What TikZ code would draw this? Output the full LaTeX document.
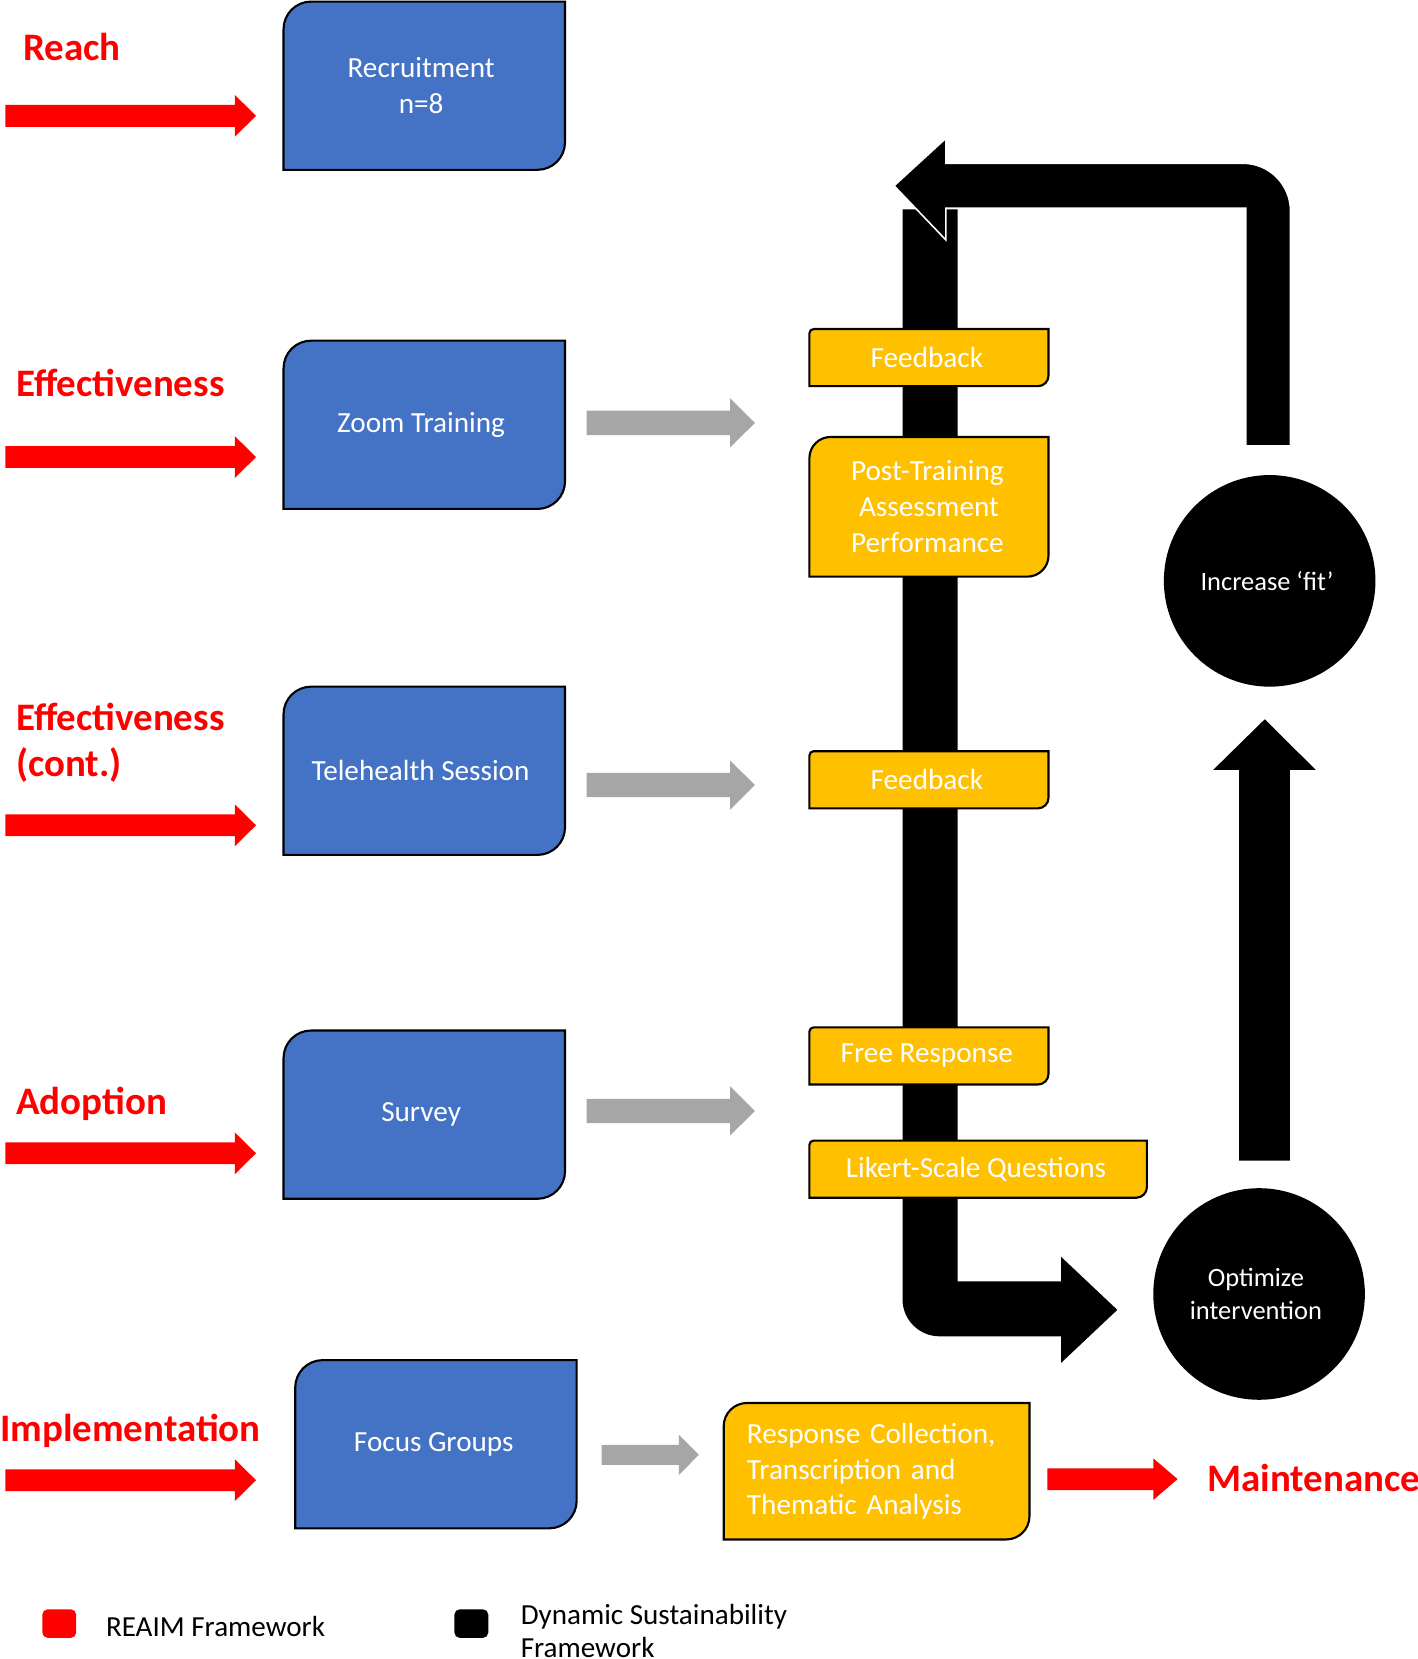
\documentclass[tikz,border=0pt]{standalone}
\usepackage{fontspec}
\setmainfont{Carlito}
\definecolor{boxblue}{HTML}{4472C4}
\definecolor{boxyellow}{HTML}{FFC000}
\definecolor{arrgray}{HTML}{A6A6A6}
\definecolor{reaim}{HTML}{FF0000}
\pgfdeclarelayer{back}
\pgfdeclarelayer{boxes}
\pgfsetlayers{back,boxes,main}
% #1 node, #2 top-left radius, #3 bottom-right radius, #4 fill colour
\newcommand\roundbox[4]{%
  \path[draw=black, line width=2pt, fill=#4]
    ([yshift=-#2]#1.north west)
    .. controls ([yshift=-0.448*#2]#1.north west) and ([xshift=0.448*#2]#1.north west) .. ([xshift=#2]#1.north west)
    -- (#1.north east)
    -- ([yshift=#3]#1.south east)
    .. controls ([yshift=0.448*#3]#1.south east) and ([xshift=-0.448*#3]#1.south east) .. ([xshift=-#3]#1.south east)
    -- (#1.south west) -- cycle;}
% x0, xbase, xtip, ycentre, half shaft, half head, colour
\newcommand\harrow[7]{%
  \fill[#7] (#1,#4-#5) -- (#2,#4-#5) -- (#2,#4-#6) -- (#3,#4) -- (#2,#4+#6) -- (#2,#4+#5) -- (#1,#4+#5) -- cycle;}
\newcommand\sh[1]{\hspace*{#1pt}}
\begin{document}
\begin{tikzpicture}[x=1pt, y=-1pt,
  bluebox/.style={inner sep=0pt, outer sep=0pt, minimum width=266pt, minimum height=159pt,
    text=white, font=\fontsize{27.6}{34}\selectfont, align=center},
  ybox/.style={inner sep=0pt, outer sep=0pt, minimum width=226pt, minimum height=54pt,
    text=white, font=\fontsize{27.6}{34}\selectfont, align=center},
  redlbl/.style={inner sep=0pt, text=reaim, font=\fontsize{36.8}{43}\selectfont\bfseries, align=left},
  circ/.style={circle, fill=black, minimum size=200pt, inner sep=0pt, text=white,
    font=\fontsize{25}{31}\selectfont, align=center},
  legsq/.style={minimum width=32pt, minimum height=27pt, inner sep=0pt, rounded corners=5pt},
  legtxt/.style={inner sep=0pt, anchor=west, align=left, font=\fontsize{27.5}{31}\selectfont}]
\useasboundingbox (0,0) rectangle (1340,1568);

% ---------- black sustainability arrows ----------
\begin{pgfonlayer}{back}
  \fill[black] (853,198) -- (905,198) -- (905,1211) -- (1003,1211) -- (1003,1188) -- (1056,1238)
    -- (1003,1288) -- (1003,1263) -- (888,1263) .. controls (868.7,1263) and (853,1247.3) .. (853,1228) -- cycle;
  \filldraw[fill=black, draw=white, line width=1.5pt] (1177.5,421.5) -- (1177.5,196.7) -- (894,196.7)
    -- (894,226.8) -- (845,175.6) -- (894,130.7) -- (894,154.3) -- (1174.7,154.3)
    .. controls (1199.6,154.3) and (1219.7,174.4) .. (1219.7,199.3) -- (1219.7,421.5) -- cycle;
  \fill[black] (1171.2,1097) -- (1171.2,727.7) -- (1146.6,727.7) -- (1195.4,679.8) -- (1243.6,727.7)
    -- (1219,727.7) -- (1219,1097) -- cycle;
\end{pgfonlayer}

% ---------- red REAIM arrows ----------
\harrow{5}{222}{242}{109.5}{10.3}{19.7}{reaim}
\harrow{5}{222}{242}{432}{10.3}{19.7}{reaim}
\harrow{5}{222}{242}{780}{10.3}{19.7}{reaim}
\harrow{5}{222}{242}{1090}{10.3}{19.7}{reaim}
\harrow{5}{222}{242}{1399}{10.3}{19.7}{reaim}
\harrow{990}{1090}{1113}{1398}{10.3}{19.7}{reaim}

% ---------- grey arrows ----------
\harrow{554.4}{690}{713.5}{399.7}{11.5}{23.3}{arrgray}
\harrow{554.4}{690}{713.5}{742}{11.5}{23.3}{arrgray}
\harrow{554.4}{690}{713.5}{1050}{11.5}{23.3}{arrgray}
\harrow{568.6}{641.7}{660.5}{1375}{9.5}{19}{arrgray}

% ---------- red labels ----------
\node[redlbl, anchor=base west] (lreach) at (22,57) {Reach};
\node[redlbl, anchor=base west] (leff) at (15,375) {Effectiveness};
\node[redlbl, anchor=west] (leff2) at (15,702) {Effectiveness\\(cont.)};
\node[redlbl, anchor=base west] (ladopt) at (15,1053) {Adoption};
\node[redlbl, anchor=base west] (limpl) at (0,1362) {Implementation};
\node[redlbl, anchor=base west] (lmaint) at (1141,1410) {Maintenance};

% ---------- blue boxes ----------
\node[bluebox] (rec) at (401,81) {Recruitment\sh{6}\\n=8\sh{6}};
\node[bluebox] (zoom) at (401,401.5) {Zoom Training\sh{6}};
\node[bluebox] (tele) at (401,728.5) {Telehealth Session\sh{7}};
\node[bluebox] (survey) at (401,1053.5) {Survey\sh{6}};
\node[bluebox] (focus) at (412,1365) {Focus Groups\sh{4}};

% ---------- yellow boxes ----------
\node[ybox] (fb1) at (878,338) {Feedback\sh{4}};
\node[ybox, minimum height=132pt] (post) at (878,479) {Post-Training\sh{3}\\Assessment\sh{3}\\Performance\sh{3}};
\node[ybox] (fb2) at (878,737) {Feedback\sh{4}};
\node[ybox] (free) at (878,998) {Free Response\sh{4}};
\node[ybox, minimum width=319pt] (likert) at (924.5,1105) {Likert-Scale Questions\sh{4}};
\node[ybox, minimum width=289pt, minimum height=129pt, align=left, text width=245pt, inner xsep=22pt]
  (resp) at (828.5,1390.5) {Response Collection,\\Transcription and\\Thematic Analysis};

% ---------- circles ----------
\node[circ] (fit) at (1200,549) {Increase ‘fit’\sh{5}};
\node[circ] (opt) at (1190,1223) {Optimize\sh{6}\\intervention\sh{6}};

% ---------- box outlines ----------
\begin{pgfonlayer}{boxes}
  \roundbox{rec}{26pt}{26pt}{boxblue}
  \roundbox{zoom}{26pt}{26pt}{boxblue}
  \roundbox{tele}{26pt}{26pt}{boxblue}
  \roundbox{survey}{26pt}{26pt}{boxblue}
  \roundbox{focus}{26pt}{26pt}{boxblue}
  \roundbox{fb1}{4pt}{10pt}{boxyellow}
  \roundbox{post}{20pt}{20pt}{boxyellow}
  \roundbox{fb2}{4pt}{10pt}{boxyellow}
  \roundbox{free}{4pt}{10pt}{boxyellow}
  \roundbox{likert}{4pt}{10pt}{boxyellow}
  \roundbox{resp}{22pt}{22pt}{boxyellow}
\end{pgfonlayer}

% ---------- legend ----------
\node[legsq, fill=reaim] (legred) at (56,1534.5) {};
\node[legtxt] (legredtxt) at (100,1537) {REAIM Framework};
\node[legsq, fill=black] (legblack) at (445.5,1534.5) {};
\node[legtxt] (legblacktxt) at (492,1541.5) {Dynamic Sustainability\\Framework};
\end{tikzpicture}
\end{document}
